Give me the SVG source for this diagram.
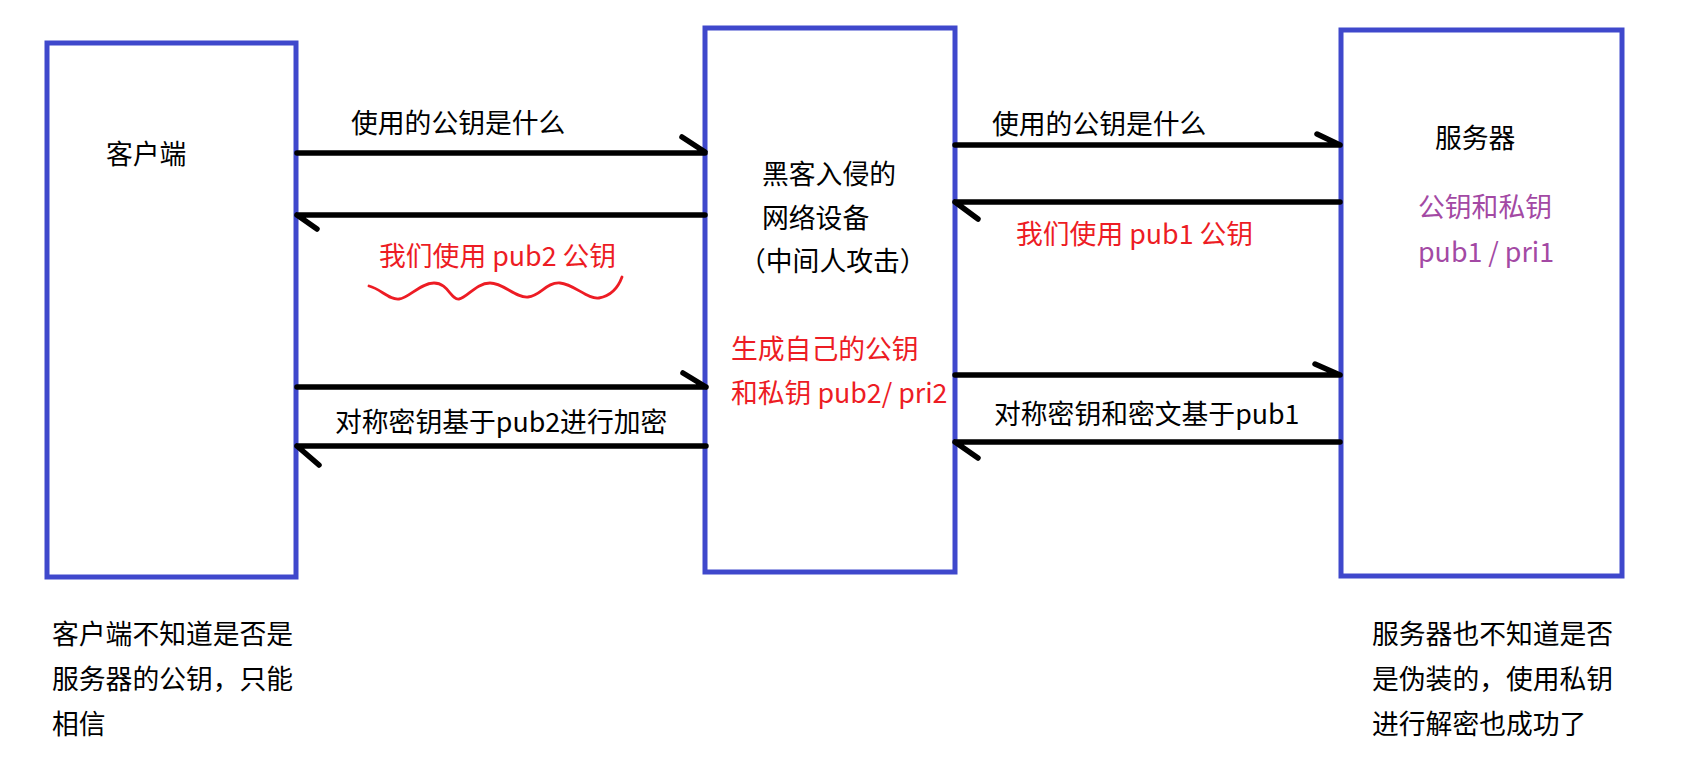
<svg xmlns="http://www.w3.org/2000/svg" width="1692" height="766" viewBox="0 0 1692 766">
<style>
.box{fill:#ffffff;stroke:#3F48CC;stroke-width:5}
.t{font-family:"Microsoft YaHei","Noto Sans CJK SC","Noto Sans",sans-serif;font-size:26.8px;fill:#000000}
.red{fill:#ED1C24}
.purple{fill:#A349A4}
.conn{fill:none;stroke:#000000;stroke-width:5.5;stroke-linecap:round;stroke-linejoin:round}
.wave{fill:none;stroke:#ED1C24;stroke-width:2.8;stroke-linecap:round;stroke-linejoin:round}
</style>
<rect x="0" y="0" width="1692" height="766" fill="#ffffff"/>
<g id="client">
<rect class="box" x="47" y="43" width="249" height="534"/>
<text class="t" x="106" y="164">客户端</text>
</g>
<g id="mitm">
<rect class="box" x="705" y="28" width="250" height="544"/>
<text class="t" x="762" y="184">黑客入侵的</text>
<text class="t" x="762" y="228">网络设备</text>
<text class="t" x="739" y="271">（中间人攻击）</text>
<text class="t red" x="731" y="359">生成自己的公钥</text>
<text class="t red" x="731" y="403">和私钥 pub2/ pri2</text>
</g>
<g id="server">
<rect class="box" x="1341" y="30" width="281" height="546"/>
<text class="t" x="1435" y="148">服务器</text>
<text class="t purple" x="1418" y="217">公钥和私钥</text>
<text class="t purple" x="1418" y="262">pub1 / pri1</text>
</g>
<g id="connectors">
<path class="conn" d="M297 153 H705 M682 137 L705 152"/>
<path class="conn" d="M705 215 H297 M297 215 L317 229"/>
<path class="conn" d="M297 387 H706 M683 373 L706 387"/>
<path class="conn" d="M706 446 H297 M297 446 L319 465"/>
<path class="conn" d="M955 145 H1340 M1317 134 L1340 145"/>
<path class="conn" d="M1340 202 H955 M955 202 L978 219"/>
<path class="conn" d="M955 375 H1340 M1315 364 L1340 375"/>
<path class="conn" d="M1340 442 H955 M955 442 L978 458"/>
</g>
<g id="labels">
<text class="t" x="351" y="133">使用的公钥是什么</text>
<text class="t red" x="379" y="266">我们使用 pub2 公钥</text>
<path class="wave" d="M369 286 C381 289, 389 300, 399 299 S420 283, 434 283 S451 300, 459 299 S476 283, 490 283 S515 298, 528 297 S546 282, 560 283 S588 300, 599 298 S618 288, 622 277"/>
<text class="t" x="335" y="432">对称密钥基于pub2进行加密</text>
<text class="t" x="992" y="134">使用的公钥是什么</text>
<text class="t red" x="1016" y="244">我们使用 pub1 公钥</text>
<text class="t" x="994" y="424">对称密钥和密文基于pub1</text>
</g>
<g id="client-note">
<text class="t" x="52" y="644">客户端不知道是否是</text>
<text class="t" x="52" y="689">服务器的公钥，只能</text>
<text class="t" x="52" y="734">相信</text>
</g>
<g id="server-note">
<text class="t" x="1372" y="644">服务器也不知道是否</text>
<text class="t" x="1372" y="689">是伪装的，使用私钥</text>
<text class="t" x="1372" y="734">进行解密也成功了</text>
</g>
</svg>
